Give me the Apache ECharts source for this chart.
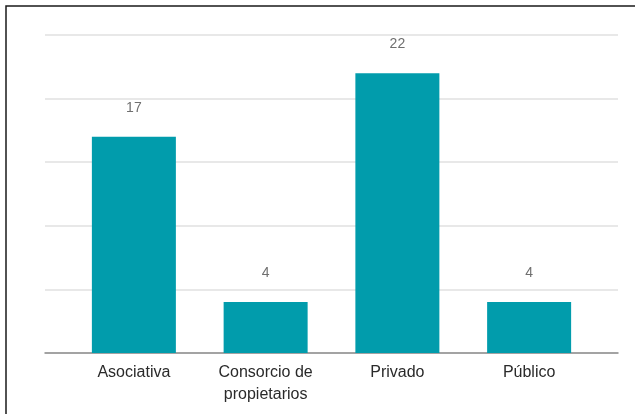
<!DOCTYPE html>
<html>
<head>
<meta charset="utf-8">
<script src="https://cdn.jsdelivr.net/npm/echarts@6/dist/echarts.min.js"></script>
<style>
  html, body { margin: 0; padding: 0; background: #ffffff; }
  #chart { width: 635px; height: 414px; }
</style>
</head>
<body>
<div id="chart"></div>
<script>
// Entidades por tipo de gestión
const categories = ['Asociativa', 'Consorcio de\npropietarios', 'Privado', 'Público'];
const counts = [17, 4, 22, 4];
const yMax = 25;
const yStep = 5;

const chart = echarts.init(document.getElementById('chart'), null, { renderer: 'canvas' });

const font = '"Liberation Sans", Arial, sans-serif';

chart.setOption({
  animation: false,
  backgroundColor: '#ffffff',
  graphic: [{
    type: 'rect',
    shape: { x: 6, y: 6, width: 700, height: 500 },
    style: { fill: 'none', stroke: '#1a1a1a', lineWidth: 1.5 },
    silent: true
  }],
  grid: [
    // wide grid: gridlines and baseline
    { left: 45, right: 17, top: 35, bottom: 61 },
    // inner grid: bars and category labels
    { left: 68, right: 40, top: 35, bottom: 61 }
  ],
  xAxis: [
    {
      gridIndex: 0, type: 'value', min: 0, max: 1,
      axisLabel: { show: false }, axisTick: { show: false }, splitLine: { show: false },
      axisLine: { show: true, lineStyle: { color: '#8c8c8c', width: 1.5 } }
    },
    {
      gridIndex: 1, type: 'category', data: categories,
      axisLine: { show: false }, axisTick: { show: false },
      axisLabel: {
        color: '#2a2a2a', fontFamily: font, fontSize: 16,
        lineHeight: 22, margin: 9, interval: 0
      }
    }
  ],
  yAxis: [
    {
      gridIndex: 0, type: 'value', min: 0, max: yMax, interval: yStep,
      axisLabel: { show: false }, axisTick: { show: false }, axisLine: { show: false },
      splitLine: { show: true, lineStyle: { color: '#e0e0e0', width: 1.5 } }
    },
    {
      gridIndex: 1, type: 'value', min: 0, max: yMax, interval: yStep,
      show: false, splitLine: { show: false }
    }
  ],
  series: [{
    type: 'bar',
    xAxisIndex: 1,
    yAxisIndex: 1,
    data: counts,
    barWidth: 84,
    itemStyle: { color: '#019cac' },
    label: {
      show: true, position: 'top', distance: 22,
      color: '#6f6f6f', fontFamily: font, fontSize: 14
    }
  }]
});
</script>
</body>
</html>
